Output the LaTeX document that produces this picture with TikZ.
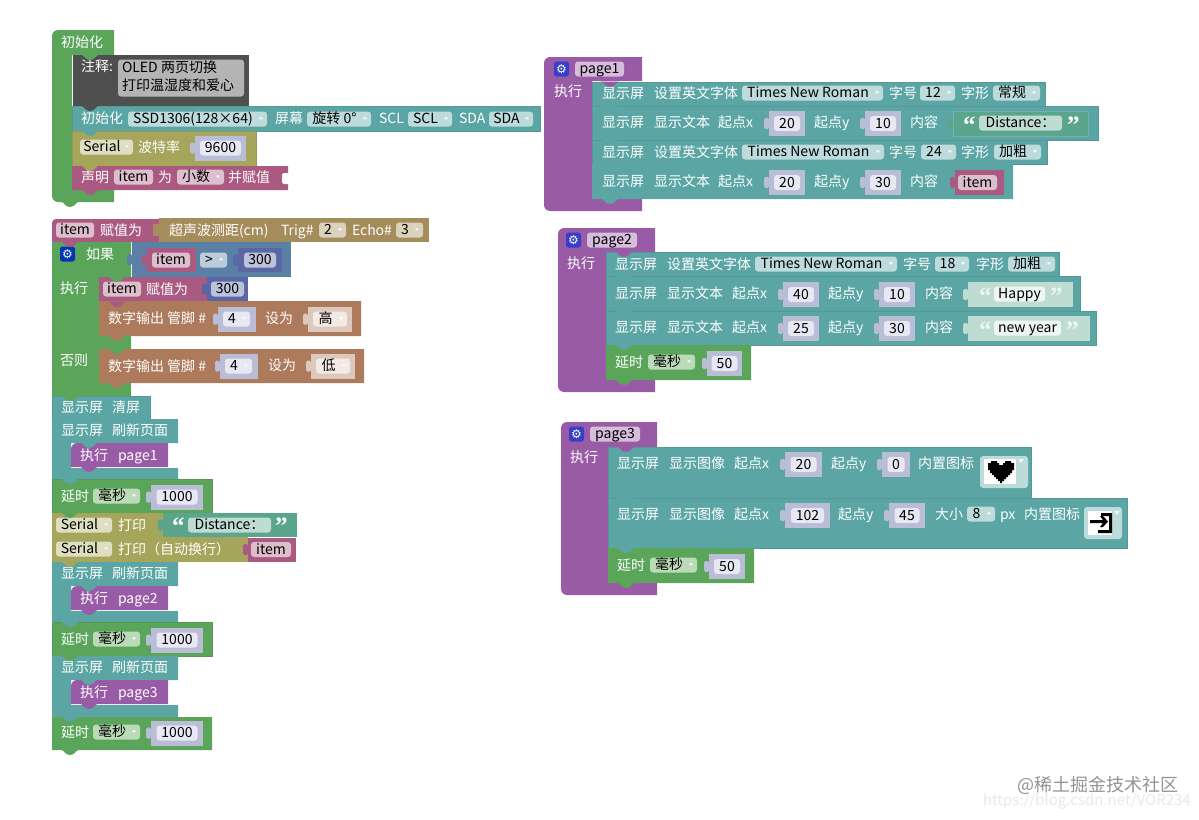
\documentclass[tikz,border=0pt]{standalone}
\usepackage{fontspec}
\setmainfont{Noto Sans CJK SC}
\newfontfamily\quotef{Liberation Serif}
\newfontfamily\dejavu{DejaVu Sans}
\usetikzlibrary{calc}
\definecolor{cgreen}{HTML}{5BA55B}
\definecolor{cteal}{HTML}{5BA5A5}
\definecolor{colive}{HTML}{A5A55B}
\definecolor{cpurple}{HTML}{995BA5}
\definecolor{cmag}{HTML}{AA5A80}
\definecolor{cdark}{HTML}{4F4F4F}
\definecolor{cbrown}{HTML}{AD7A5C}
\definecolor{csonic}{HTML}{A58C5B}
\definecolor{cblue}{HTML}{5B80A5}
\definecolor{cind}{HTML}{5B67A5}
\definecolor{csock}{HTML}{B9BDD6}
\definecolor{cnum}{HTML}{E8E8F5}
\definecolor{ctan}{HTML}{DDC8BE}
\definecolor{ctfld}{HTML}{F3EAE5}
\definecolor{cstrg}{HTML}{5BA58C}
\definecolor{cstrl}{HTML}{BFDCD2}
\definecolor{cstr}{HTML}{BEDCD3}
\definecolor{cstw}{HTML}{EEF6F2}
\definecolor{cfteal}{HTML}{BDDBDB}
\definecolor{cfgreen}{HTML}{BBDAB8}
\definecolor{cfolive}{HTML}{DEDEC2}
\definecolor{cfmag}{HTML}{DDBECD}
\definecolor{cfsonic}{HTML}{DBD1BD}
\definecolor{cfblue}{HTML}{BDCCDB}
\definecolor{cfind}{HTML}{BDC2DB}
\definecolor{cfpur}{HTML}{D6BDDB}
\definecolor{ccomm}{HTML}{B4B4B4}
\begin{document}
\begin{tikzpicture}[x=1pt,y=-1pt,
 every node/.style={font=\fontsize{14}{16}\selectfont,inner sep=0pt,outer sep=0pt,text height=12pt,text depth=3pt},
 lab/.style={text=white,anchor=west,text height=13pt,text depth=2pt},
 fld/.style={anchor=west,rounded corners=3pt,minimum height=15pt,text=black,fill=#1},
 drop/.style={fld=#1,execute at end node=\hspace{9pt},path picture={
   \fill[white,opacity=.75] ($(path picture bounding box.east)+(-9,-2)$) -- ++(6,0) -- ++(-3,4) -- cycle;}},
 num/.style={rounded corners=3pt,minimum height=15pt,text=black,fill=cnum},
 sock/.style 2 args={anchor=west,minimum width=#1,minimum height=25pt,fill=#2,
   label={[fill=#2,minimum width=5pt,minimum height=11pt,rounded corners=1.5pt,text height=0pt,text depth=0pt]west:{}}},
 qt/.style={text=#1,anchor=west,font=\fontsize{25}{25}\selectfont\quotef\bfseries,text height=18pt,text depth=0pt},
 row/.style={fill=#1,draw=#1!92!black,line width=.4pt},
 tabbit/.pic={\path[pic actions] (9,-.4) .. controls (12,0) and (13,5) .. (18,5) .. controls (23,5) and (24,0) .. (27,-.4) -- cycle;},
 ]
 \useasboundingbox (0,0) rectangle (1199,819);

 \fill[cgreen] (114,30) [rounded corners=6pt] -- (52,30) -- (52,202) [sharp corners] -- (114,202) -- (114,190) -- (72,190) -- (72,55) -- (114,55) -- cycle;
 \node[lab] (ini) at (61,42){初始化};
 \fill[cdark] (73,55) rectangle (249,106);
 \node[lab] (cmt) at (81,66){注释:};
 \node[fld=ccomm,minimum width=126,minimum height=37] (cmtbox) at (118,78){};
 \node[anchor=west] (cmta) at (122,68){OLED 两页切换};
 \node[anchor=west] (cmtb) at (122,86){打印温湿度和爱心};
 \fill[row=cteal] (72,106) rectangle (540,131);
 \node[lab] (oled) at (81,118){初始化};
 \node[drop=cfteal,minimum width=139] (chip) at (128,119){SSD1306(128×64)};
 \node[lab] (scr) at (275,118){屏幕};
 \node[drop=cfteal,minimum width=64] (rot) at (307,119){旋转 0°};
 \node[lab] (scl) at (379,118){SCL};
 \node[drop=cfteal,minimum width=44] (sclv) at (408,119){SCL};
 \node[lab] (sda) at (459,118){SDA};
 \node[drop=cfteal,minimum width=44] (sdav) at (489,119){SDA};
 \fill[row=colive] (72,131) rectangle (256,166);
 \node[drop=cfolive,minimum width=53] (ser) at (80,147){Serial};
 \node[lab] (baud) at (138,147){波特率};
 \node[sock={51}{csock}] (bauds) at (195,148){};
 \node[num,minimum width=41] (baudn) at (bauds){9600};
 \fill[cmag] (72,166) -- (288,166) -- (288,190) -- (72,190) [rounded corners=5pt] -- (72,180) [sharp corners] -- cycle;
 \fill[white,rounded corners=1.5pt] (282,173) rectangle (289,184);
 \node[lab] (decl) at (81,177){声明};
 \node[fld=cfmag,minimum width=39] (itema) at (114,177){item};
 \node[lab] (wei) at (158,177){为};
 \node[drop=cfmag,minimum width=47] (flt) at (177,177){小数};
 \node[lab] (ass) at (228,177){并赋值};

 \fill[cmag] (159,219) -- (159,242) -- (52,242) [rounded corners=4pt] -- (52,219) [sharp corners] -- cycle;
 \fill[csonic] (153,224) rectangle (160,236);
 \fill[csonic] (159,218) rectangle (429,242);
 \node[fld=cfmag,minimum width=38] (itemb) at (56,230){item};
 \node[lab] (setb) at (100,230){赋值为};
 \node[lab] (sonic) at (169,230){超声波测距(cm)};
 \node[lab] (trig) at (281,230){Trig\#};
 \node[drop=cfsonic,minimum width=27] (trigv) at (319,230){2};
 \node[lab] (echo) at (352,230){Echo\#};
 \node[drop=cfsonic,minimum width=27] (echov) at (396,230){3};
 \fill[cgreen] (131,242) -- (52,242) -- (52,396) -- (131,396) -- (131,383) -- (99,383) -- (99,349) -- (131,349) -- (131,336) -- (99,336) -- (99,277) -- (131,277) -- cycle;
 \node[sock={159}{cblue},minimum height=35pt] (ifc) at (132,259.5){};
 \node[sock={49}{cmag},minimum height=24pt] (ifl) at (147,260){};
 \node[fld=cfmag,minimum width=38] (itemc) at (152,260){item};
 \node[drop=cfblue,minimum width=27] (gt) at (200,260){>};
 \node[sock={44}{cind},minimum height=24pt] (ifr) at (238,260){};
 \node[num,fill=cfind,minimum width=32] (ifn) at (ifr){300};
 \node[anchor=west,fill=blue!70!cyan!70!black,rounded corners=2.5pt,minimum width=15,minimum height=15] (gearb) at (60,254){};
 \node[text=white,font=\fontsize{12}{12}\selectfont\dejavu,text height=8pt,text depth=0pt] (gear) at (gearb){⚙};
 \node[lab] (ifl2) at (86,254){如果};
 \node[lab] (doa) at (60,288){执行};
 \node[lab] (els) at (60,360){否则};
 \fill[cmag] (99,277) rectangle (207,302);
 \node[fld=cfmag,minimum width=38] (itemd) at (103,289){item};
 \node[lab] (setd) at (146,289){赋值为};
 \node[sock={41}{cind},minimum height=24pt] (setv) at (207,289){};
 \node[num,fill=cfind,minimum width=33] (setn) at (setv){300};
 \fill[cbrown] (99,301) -- (361,301) -- (361,336) -- (99,336) [rounded corners=5pt] -- (99,325) [sharp corners] -- cycle;
 \node[lab] (dga) at (108,318){数字输出 管脚 \#};
 \node[sock={38}{csock}] (dgas) at (218,319){};
 \node[drop=cnum,minimum width=27] (dgan) at (223,319){4};
 \node[lab] (dgat) at (265,318){设为};
 \node[sock={44}{ctan}] (dgah) at (308,319){};
 \node[drop=ctfld,minimum width=34] (dgav) at (313,319){高};
 \fill[cbrown] (99,349) -- (364,349) -- (364,383) -- (99,383) [rounded corners=5pt] -- (99,370) [sharp corners] -- cycle;
 \node[lab] (dgb) at (108,366){数字输出 管脚 \#};
 \node[sock={38}{csock}] (dgbs) at (220,366){};
 \node[drop=cnum,minimum width=27] (dgbn) at (225,366){4};
 \node[lab] (dgbt) at (268,365){设为};
 \node[sock={44}{ctan}] (dgbl) at (311,366){};
 \node[drop=ctfld,minimum width=34] (dgbv) at (316,366){低};

 \fill[row=cteal] (52,396) rectangle (150,419);
 \node[lab] (clra) at (61,407){显示屏};
 \node[lab] (clrb) at (112,407){清屏};
 \fill[cteal] (52,419) -- (178,419) -- (178,443) -- (71,443) -- (71,468) -- (178,468) -- (178,479) -- (52,479) -- cycle;
 \node[lab] (refa) at (61,430){显示屏};
 \node[lab] (refb) at (112,430){刷新页面};
 \fill[cpurple] (168,443) -- (168,467) -- (71,467) [rounded corners=6pt] -- (71,443) [sharp corners] -- cycle;
 \node[lab] (exa) at (80,455){执行};
 \node[lab] (pga) at (118,455){page1};
 \fill[row=cgreen] (52,479) rectangle (212,513);
 \node[lab] (dla) at (61,496){延时};
 \node[drop=cfgreen,minimum width=47] (msa) at (93,496){毫秒};
 \node[sock={52}{csock}] (dlas) at (151,497){};
 \node[num,minimum width=41] (dlan) at (dlas){1000};
 \fill[colive] (52,513) rectangle (163,537);
 \node[sock={134}{cstrg},minimum height=24pt] (stra) at (163,525){};
 \node[drop=cfolive,minimum width=56] (sera) at (56,525){Serial};
 \node[lab] (pra) at (118,525){打印};
 \node[qt=white] (qa) at (172,525){“};
 \node[fld=cstr,minimum width=83] (dista) at (188,525){Distance：};
 \node[qt=white] (qb) at (275,525){”};
 \fill[colive] (52,537) rectangle (248,562);
 \node[drop=cfolive,minimum width=56] (serb) at (56,549){Serial};
 \node[lab] (prb) at (118,549){打印（自动换行）};
 \node[sock={48}{cmag},minimum height=24pt] (vare) at (248,549.5){};
 \node[fld=cfmag,minimum width=40] (iteme) at (251,549.5){item};

 \fill[cteal] (52,562) -- (178,562) -- (178,586) -- (71,586) -- (71,611) -- (178,611) -- (178,622) -- (52,622) -- cycle;
 \node[lab] (refc) at (61,573){显示屏};
 \node[lab] (refd) at (112,573){刷新页面};
 \fill[cpurple] (168,586) -- (168,610) -- (71,610) [rounded corners=6pt] -- (71,586) [sharp corners] -- cycle;
 \node[lab] (exb) at (80,598){执行};
 \node[lab] (pgb) at (118,598){page2};
 \fill[row=cgreen] (52,622) rectangle (212,656);
 \node[lab] (dlb) at (61,639){延时};
 \node[drop=cfgreen,minimum width=47] (msb) at (93,639){毫秒};
 \node[sock={52}{csock}] (dlbs) at (151,640){};
 \node[num,minimum width=41] (dlbn) at (dlbs){1000};
 \fill[cteal] (52,656) -- (178,656) -- (178,680) -- (71,680) -- (71,705) -- (178,705) -- (178,717) -- (52,717) -- cycle;
 \node[lab] (refe) at (61,667){显示屏};
 \node[lab] (reff) at (112,667){刷新页面};
 \fill[cpurple] (168,680) -- (168,704) -- (71,704) [rounded corners=6pt] -- (71,680) [sharp corners] -- cycle;
 \node[lab] (exc) at (80,692){执行};
 \node[lab] (pgc) at (118,692){page3};
 \fill[cgreen] (212,717) -- (212,750) -- (52,750) [rounded corners=5pt] -- (52,730) [sharp corners] -- (52,717) -- cycle;
 \node[lab] (dlc) at (61,732){延时};
 \node[drop=cfgreen,minimum width=47] (msc) at (93,732){毫秒};
 \node[sock={52}{csock}] (dlcs) at (151,733){};
 \node[num,minimum width=41] (dlcn) at (dlcs){1000};

 \fill[cpurple] (642,57) [rounded corners=6pt] -- (544,57) -- (544,211) [sharp corners] -- (642,211) -- (642,199) -- (592,199) -- (592,81) -- (642,81) -- cycle;
 \node[anchor=west,fill=cind!60!blue,rounded corners=2.5pt,minimum width=15,minimum height=15] (gearc) at (554,69){};
 \node[text=white,font=\fontsize{12}{12}\selectfont\dejavu,text height=8pt,text depth=0pt] (geard) at (gearc){⚙};
 \node[fld=cfpur,minimum width=49] (pageone) at (575,69){page1};
 \node[lab] (bodya) at (554,91){执行};
 \fill[row=cteal] (592,82) rectangle (1045,106);
 \node[lab] (oa) at (602,93){显示屏};
 \node[lab] (ob) at (654,93){设置英文字体};
 \node[drop=cfteal,minimum width=141] (oc) at (742,93){Times New Roman};
 \node[lab] (od) at (889,93){字号};
 \node[drop=cfteal,minimum width=35] (oe) at (920,93){12};
 \node[lab] (of) at (961,93){字形};
 \node[drop=cfteal,minimum width=47] (og) at (993,93){常规};
 \fill[row=cteal] (592,106) rectangle (1098,140);
 \node[lab] (pa) at (602,122){显示屏};
 \node[lab] (pb) at (654,122){显示文本};
 \node[lab] (pc) at (718,122){起点x};
 \node[sock={36}{csock}] (pd) at (769,123.5){};
 \node[num,minimum width=26] (pe) at (pd){20};
 \node[lab] (pf) at (814,122){起点y};
 \node[sock={36}{csock}] (pg) at (865,123.5){};
 \node[num,minimum width=26] (ph) at (pg){10};
 \node[lab] (pi) at (910,122){内容};
 \node[sock={135}{cstrg},draw=cteal!85!white,line width=.4pt] (pj) at (953,123.5){};
 \node[qt=white] (pk) at (963,124){“};
 \node[fld=cstr,minimum width=83] (pl) at (979,123){Distance：};
 \node[qt=white] (pm) at (1067,124){”};
 \fill[row=cteal] (592,140) rectangle (1047,164);
 \node[lab] (qa1) at (602,152){显示屏};
 \node[lab] (qb1) at (654,152){设置英文字体};
 \node[drop=cfteal,minimum width=142] (qc1) at (742,152){Times New Roman};
 \node[lab] (qd1) at (889,152){字号};
 \node[drop=cfteal,minimum width=35] (qe1) at (921,152){24};
 \node[lab] (qf1) at (961,152){字形};
 \node[drop=cfteal,minimum width=47] (qg1) at (994,152){加粗};
 \fill[cteal] (592,164) -- (1013,164) -- (1013,199) -- (592,199) [rounded corners=5pt] -- (592,185) [sharp corners] -- cycle;
 \node[lab] (ra) at (602,181){显示屏};
 \node[lab] (rb) at (654,181){显示文本};
 \node[lab] (rc) at (718,181){起点x};
 \node[sock={36}{csock}] (rd) at (769,182.5){};
 \node[num,minimum width=26] (re) at (rd){20};
 \node[lab] (rf) at (814,181){起点y};
 \node[sock={36}{csock}] (rg) at (865,182.5){};
 \node[num,minimum width=26] (rh) at (rg){30};
 \node[lab] (ri) at (910,181){内容};
 \node[sock={49}{cmag}] (rj) at (955,182.5){};
 \node[fld=cfmag,minimum width=39] (rk) at (958,182.5){item};

 \fill[cpurple] (655,228) [rounded corners=6pt] -- (558,228) -- (558,392) [sharp corners] -- (655,392) -- (655,380) -- (606,380) -- (606,252) -- (655,252) -- cycle;
 \node[anchor=west,fill=cind!60!blue,rounded corners=2.5pt,minimum width=15,minimum height=15] (geare) at (566,240){};
 \node[text=white,font=\fontsize{12}{12}\selectfont\dejavu,text height=8pt,text depth=0pt] (gearf) at (geare){⚙};
 \node[fld=cfpur,minimum width=50] (pagetwo) at (587,240){page2};
 \node[lab] (bodyb) at (567,263){执行};
 \fill[row=cteal] (606,252) rectangle (1059,276);
 \node[lab] (sa) at (615,264){显示屏};
 \node[lab] (sb) at (667,264){设置英文字体};
 \node[drop=cfteal,minimum width=142] (sc) at (755,264){Times New Roman};
 \node[lab] (sd) at (903,264){字号};
 \node[drop=cfteal,minimum width=34] (se) at (935,264){18};
 \node[lab] (sf) at (976,264){字形};
 \node[drop=cfteal,minimum width=47] (sg) at (1008,264){加粗};
 \fill[row=cteal] (606,276) rectangle (1080,311);
 \node[lab] (ta) at (615,293){显示屏};
 \node[lab] (tb) at (667,293){显示文本};
 \node[lab] (tc) at (732,293){起点x};
 \node[sock={36}{csock}] (td) at (783,294.5){};
 \node[num,minimum width=26] (te) at (td){40};
 \node[lab] (tf) at (828,293){起点y};
 \node[sock={36}{csock}] (tg) at (879,294.5){};
 \node[num,minimum width=26] (th) at (tg){10};
 \node[lab] (ti) at (925,293){内容};
 \node[sock={105}{cstrl}] (tj) at (968,294.5){};
 \node[qt=cstw] (tk) at (979,295){“};
 \node[fld=cstw,minimum width=51] (tl) at (994,294){Happy};
 \node[qt=cstw] (tm) at (1050,295){”};
 \fill[row=cteal] (606,311) rectangle (1096,345);
 \node[lab] (ua) at (615,327){显示屏};
 \node[lab] (ub) at (667,327){显示文本};
 \node[lab] (uc) at (732,327){起点x};
 \node[sock={36}{csock}] (ud) at (783,328.5){};
 \node[num,minimum width=26] (ue) at (ud){25};
 \node[lab] (uf) at (828,327){起点y};
 \node[sock={36}{csock}] (ug) at (879,328.5){};
 \node[num,minimum width=26] (uh) at (ug){30};
 \node[lab] (ui) at (925,327){内容};
 \node[sock={122}{cstrl}] (uj) at (968,328.5){};
 \node[qt=cstw] (uk) at (979,329){“};
 \node[fld=cstw,minimum width=67] (ul) at (994,328){new year};
 \node[qt=cstw] (um) at (1066,329){”};
 \fill[cgreen] (606,345) -- (751,345) -- (751,380) -- (606,380) [rounded corners=5pt] -- (606,365) [sharp corners] -- cycle;
 \node[lab] (va) at (615,362){延时};
 \node[drop=cfgreen,minimum width=47] (vb) at (648,362){毫秒};
 \node[sock={35}{csock}] (vc) at (707,363.5){};
 \node[num,minimum width=26] (vd) at (vc){50};

 \fill[cpurple] (657,422) [rounded corners=6pt] -- (561,422) -- (561,595) [sharp corners] -- (657,595) -- (657,583) -- (608,583) -- (608,447) -- (657,447) -- cycle;
 \node[anchor=west,fill=cind!60!blue,rounded corners=2.5pt,minimum width=15,minimum height=15] (gearg) at (569,434){};
 \node[text=white,font=\fontsize{12}{12}\selectfont\dejavu,text height=8pt,text depth=0pt] (gearh) at (gearg){⚙};
 \node[fld=cfpur,minimum width=50] (pagethree) at (590,434){page3};
 \node[lab] (bodyc) at (570,457){执行};
 \fill[row=cteal] (608,447) rectangle (1031,498);
 \node[lab] (wa) at (617,463){显示屏};
 \node[lab] (wb) at (669,463){显示图像};
 \node[lab] (wc) at (734,463){起点x};
 \node[sock={37}{csock}] (wd) at (785,464.5){};
 \node[num,minimum width=26] (we) at (wd){20};
 \node[lab] (wf) at (831,463){起点y};
 \node[sock={28}{csock}] (wg) at (882,464.5){};
 \node[num,minimum width=17] (wh) at (wg){0};
 \node[lab] (wi) at (918,463){内置图标};
 \node[fld=cfteal,minimum width=48,minimum height=32] (wj) at (980,472){};
 \node[anchor=west,fill=white,minimum width=32,minimum height=25] (wk) at (984,471.5){};
 \fill[white,opacity=.75] (1018,459) -- (1024,459) -- (1021,463) -- cycle;
 \fill[black] (991,461) -- (997,461) -- (997,463) -- (999,463) -- (999,465) -- (1003,465) -- (1003,463) -- (1005,463) -- (1005,461) -- (1011,461) -- (1011,463) -- (1014,463) -- (1014,470) -- (1012,470) -- (1012,473) -- (1010,473) -- (1010,475) -- (1008,475) -- (1008,477) -- (1006,477) -- (1006,479) -- (1004,479) -- (1004,481) -- (1002,481) -- (1002,483) -- (1000,483) -- (1000,481) -- (998,481) -- (998,479) -- (996,479) -- (996,477) -- (994,477) -- (994,475) -- (992,475) -- (992,473) -- (990,473) -- (990,470) -- (988,470) -- (988,463) -- (991,463) -- cycle;
 \fill[row=cteal] (608,498) rectangle (1127,548);
 \node[lab] (xa) at (617,514){显示屏};
 \node[lab] (xb) at (669,514){显示图像};
 \node[lab] (xc) at (734,514){起点x};
 \node[sock={45}{csock}] (xd) at (785,515.5){};
 \node[num,minimum width=33] (xe) at (xd){102};
 \node[lab] (xf) at (838,514){起点y};
 \node[sock={36}{csock}] (xg) at (889,515.5){};
 \node[num,minimum width=25] (xh) at (xg){45};
 \node[lab] (xi) at (935,514){大小};
 \node[drop=cfteal,minimum width=28] (xj) at (967,514){8};
 \node[lab] (xk) at (1000,514){px};
 \node[lab] (xl) at (1024,514){内置图标};
 \node[fld=cfteal,minimum width=38,minimum height=32] (xm) at (1084,523){};
 \node[anchor=west,fill=white,minimum width=24,minimum height=24] (xn) at (1088,523){};
 \fill[white,opacity=.75] (1114,511) -- (1120,511) -- (1117,515) -- cycle;
 \fill[black] (1101,513) rectangle (1112,516) (1109,513) rectangle (1112,533) (1098,530) rectangle (1112,533) (1090,520) rectangle (1105,523);
 \fill[black] (1100,516) -- (1103,516) -- (1108,521.5) -- (1103,527) -- (1100,527) -- (1104,521.5) -- cycle;
 \fill[cgreen] (608,548) -- (754,548) -- (754,583) -- (608,583) [rounded corners=5pt] -- (608,568) [sharp corners] -- cycle;
 \node[lab] (ya) at (617,565){延时};
 \node[drop=cfgreen,minimum width=47] (yb) at (650,565){毫秒};
 \node[sock={36}{csock}] (yc) at (709,566.5){};
 \node[num,minimum width=26] (yd) at (yc){50};

 \pic[fill=cgreen] at (72,55) {tabbit};
 \pic[fill=cdark] at (72,106) {tabbit};
 \pic[fill=cteal] at (72,131) {tabbit};
 \pic[fill=colive] at (72,166) {tabbit};
 \pic[fill=cmag] at (72,190) {tabbit};
 \pic[fill=cgreen] at (52,202) {tabbit};
 \pic[fill=cmag] at (52,242) {tabbit};
 \pic[fill=cgreen] at (99,277) {tabbit};
 \pic[fill=cmag] at (99,302) {tabbit};
 \pic[fill=cbrown] at (99,336) {tabbit};
 \pic[fill=cgreen] at (99,349) {tabbit};
 \pic[fill=cbrown] at (99,383) {tabbit};
 \pic[fill=cgreen] at (52,396) {tabbit};
 \pic[fill=cteal] at (52,419) {tabbit};
 \pic[fill=cteal] at (71,443) {tabbit};
 \pic[fill=cpurple] at (71,467) {tabbit};
 \pic[fill=cteal] at (52,479) {tabbit};
 \pic[fill=cgreen] at (52,513) {tabbit};
 \pic[fill=colive] at (52,537) {tabbit};
 \pic[fill=colive] at (52,562) {tabbit};
 \pic[fill=cteal] at (71,586) {tabbit};
 \pic[fill=cpurple] at (71,610) {tabbit};
 \pic[fill=cteal] at (52,622) {tabbit};
 \pic[fill=cgreen] at (52,656) {tabbit};
 \pic[fill=cteal] at (71,680) {tabbit};
 \pic[fill=cpurple] at (71,704) {tabbit};
 \pic[fill=cteal] at (52,717) {tabbit};
 \pic[fill=cgreen] at (52,750) {tabbit};
 \pic[fill=cpurple] at (592,82) {tabbit};
 \pic[fill=cteal] at (592,106) {tabbit};
 \pic[fill=cteal] at (592,140) {tabbit};
 \pic[fill=cteal] at (592,164) {tabbit};
 \pic[fill=cteal] at (592,199) {tabbit};
 \pic[fill=cpurple] at (606,252) {tabbit};
 \pic[fill=cteal] at (606,276) {tabbit};
 \pic[fill=cteal] at (606,311) {tabbit};
 \pic[fill=cteal] at (606,345) {tabbit};
 \pic[fill=cgreen] at (606,380) {tabbit};
 \pic[fill=cpurple] at (608,447) {tabbit};
 \pic[fill=cteal] at (608,498) {tabbit};
 \pic[fill=cteal] at (608,548) {tabbit};
 \pic[fill=cgreen] at (608,583) {tabbit};

 \node[anchor=west,text=gray!85,font=\fontsize{18}{20}\selectfont] (wma) at (1017,787){@稀土掘金技术社区};
 \node[anchor=west,text=gray!18,font=\fontsize{15}{17}\selectfont] (wmb) at (983,801){https://blog.csdn.net/VOR234};
\end{tikzpicture}
\end{document}
